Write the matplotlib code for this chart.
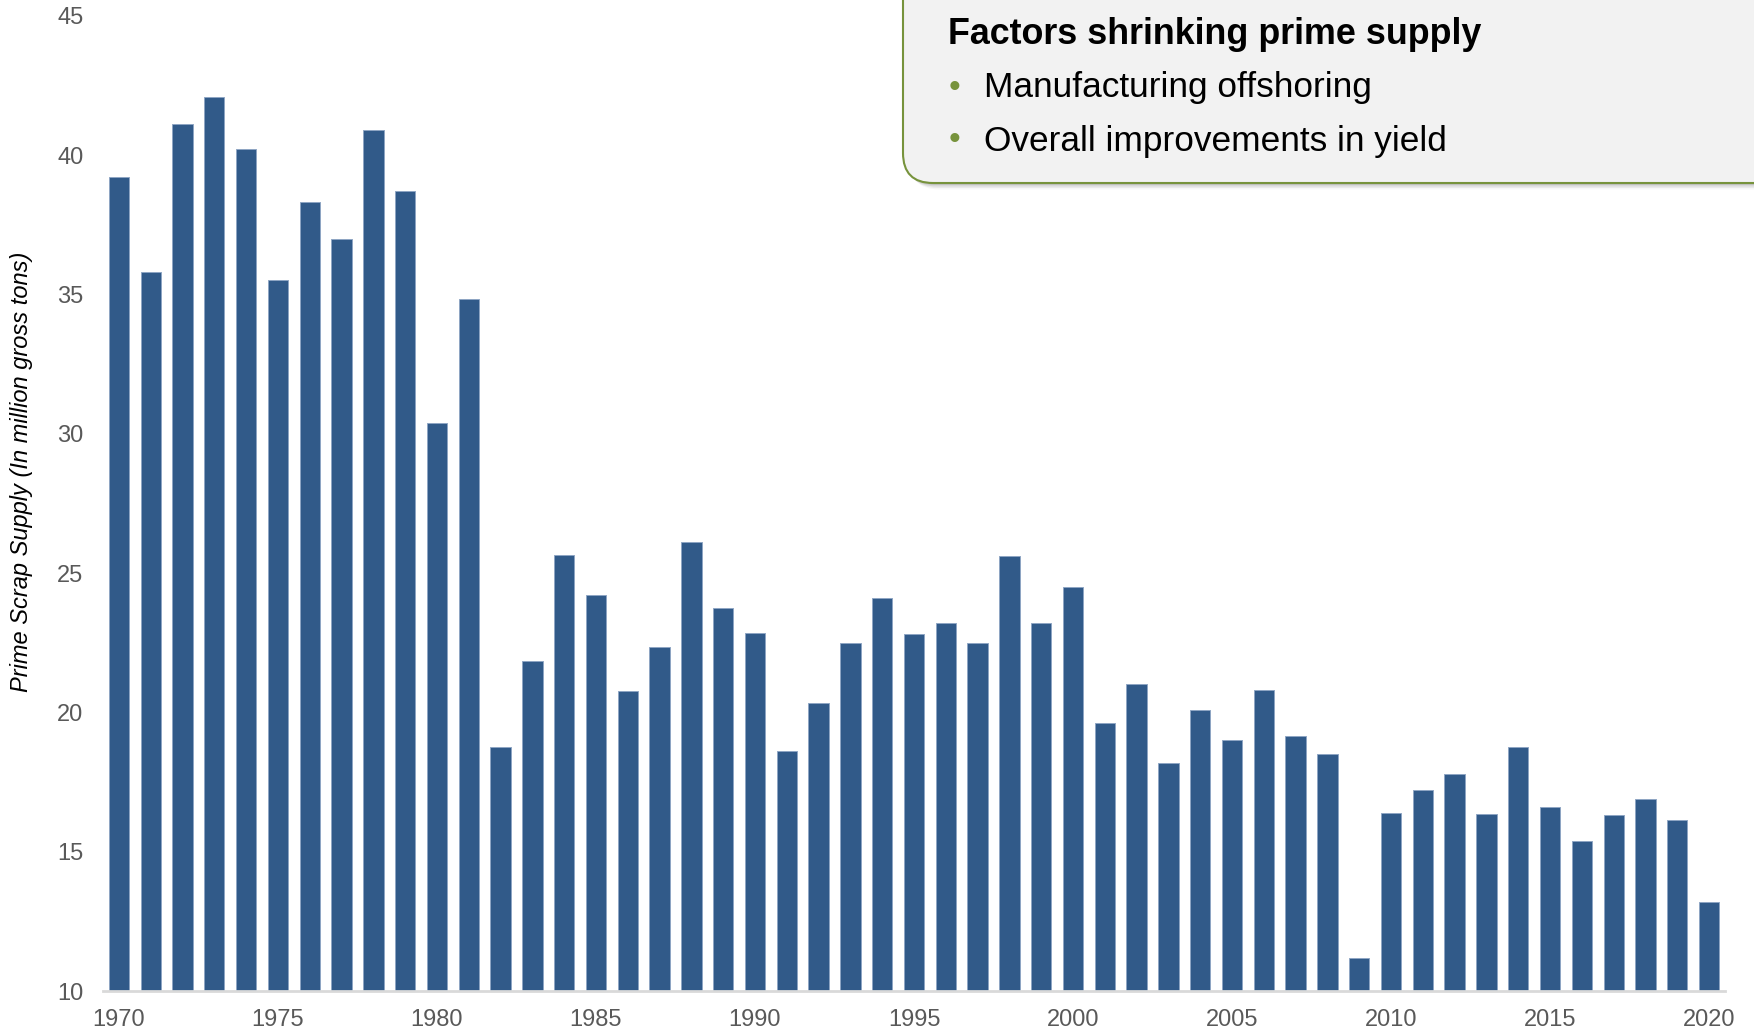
import matplotlib.pyplot as plt
from matplotlib.patches import FancyBboxPatch

years = list(range(1970, 2021))
supply = [39.2, 35.8, 41.1, 42.1, 40.2, 35.5, 38.3, 37.0, 40.9, 38.7,
          30.4, 34.85, 18.75, 21.85, 25.65, 24.2, 20.75, 22.35, 26.1, 23.75,
          22.85, 18.6, 20.35, 22.5, 24.1, 22.8, 23.2, 22.5, 25.6, 23.2,
          24.5, 19.6, 21.0, 18.2, 20.1, 19.0, 20.8, 19.15, 18.5, 11.2,
          16.4, 17.2, 17.8, 16.35, 18.75, 16.6, 15.4, 16.3, 16.9, 16.15,
          13.2]
x_ticks = [1970, 1975, 1980, 1985, 1990, 1995, 2000, 2005, 2010, 2015, 2020]
y_ticks = [10, 15, 20, 25, 30, 35, 40, 45]
y_label = "Prime Scrap Supply (In million gross tons)"
box_title = "Factors shrinking prime supply"
box_points = ["Manufacturing offshoring", "Overall improvements in yield"]

plt.rcParams['font.family'] = ['Liberation Sans', 'DejaVu Sans']

W, H = 1754, 1031
fig = plt.figure(figsize=(W / 100, H / 100), dpi=100)

# main bar axes, placed in pixel terms
x0, x1 = 103, 1725
y_top, y_bot = 15.7, 991
ax = fig.add_axes([x0 / W, (H - y_bot) / H, (x1 - x0) / W, (y_bot - y_top) / H])
ax.bar(years, supply, width=0.64, color='#315a89', edgecolor='#8ea5c4', linewidth=0.7)
ax.set_xlim(1969.5, 2020.5)
ax.set_ylim(10, 45)
ax.set_xticks(x_ticks)
ax.set_yticks(y_ticks)
ax.tick_params(length=0, labelsize=17, labelcolor='#595959')
ax.tick_params(axis='x', pad=13)
ax.tick_params(axis='y', pad=14)
for s in ['top', 'right', 'left']:
    ax.spines[s].set_visible(False)
ax.spines['bottom'].set_color('#d9d9d9')
ax.spines['bottom'].set_linewidth(2)
ax.set_ylabel(y_label, fontsize=17, style='italic', color='#000000')
ax.yaxis.set_label_coords(-(103 - 33) / (x1 - x0), 0.532)

# overlay in pixel coords for the callout box
ov = fig.add_axes([0, 0, 1, 1], zorder=5)
ov.set_xlim(0, W)
ov.set_ylim(H, 0)
ov.axis('off')

bx, by = 903, 183
r = 30
# soft shadow
for i, a in enumerate([0.14, 0.10, 0.07, 0.04]):
    d = 2 + i * 1.5
    ov.add_patch(FancyBboxPatch((bx + d, -100), W + 200, by + 100 + d,
                                boxstyle="round,pad=0,rounding_size=%d" % r,
                                facecolor='#404040', edgecolor='none', alpha=a))
ov.add_patch(FancyBboxPatch((bx, -100), W + 200, by + 100,
                            boxstyle="round,pad=0,rounding_size=%d" % r,
                            facecolor='#f2f2f2', edgecolor='#77933c', linewidth=1.5))

ov.text(948, 34, box_title, fontsize=25.8, fontweight='bold', color='#000000',
        ha='left', va='center')
for i, t in enumerate(box_points):
    yy = 88 + i * 53
    ov.text(954, yy, "\u2022", fontsize=24, color='#77933c', ha='center', va='center')
    ov.text(984, yy, t, fontsize=25.4, color='#000000', ha='left', va='center')

fig.savefig('out.png', dpi=100)
